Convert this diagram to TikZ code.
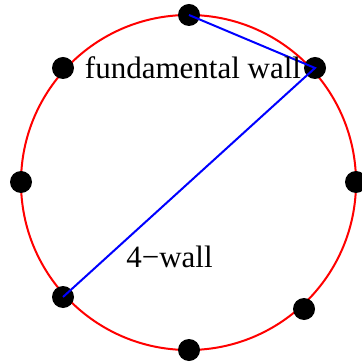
\documentclass[tikz,border=0pt]{standalone}
\usepackage{fontspec}
\setmainfont{Liberation Serif}
\usepackage{tikz}
\usetikzlibrary{positioning}
\tikzset{
  vert/.style={circle, fill=black, inner sep=0pt, minimum size=11pt},
  wall/.style={draw=blue, line width=1pt},
  rim/.style={draw=red, line width=1pt},
  lbl/.style={anchor=base, inner sep=0pt, font=\fontsize{15.5}{18}\selectfont}
}
\begin{document}
\begin{tikzpicture}[x=0.5pt, y=-0.5pt]
\useasboundingbox (0,0) rectangle (361,362);
\draw[rim] (188.5,182.5) circle[radius=83.75pt];
\node[vert] (n) at (189,15) {};
\node[vert] (ne) at (315,68) {};
\node[vert] (nw) at (63,68) {};
\node[vert] (w) at (21,182) {};
\node[vert] (e) at (356,182) {};
\node[vert] (sw) at (63,297) {};
\node[vert] (s) at (189,350) {};
\node[vert] (se) at (304,309) {};
\draw[wall] (n.center)--(ne.center)--(sw.center);
\node[lbl] (fw) at (193,79) {fundamental wall};
\node[lbl] (fourw) at (169.5,267) {4−wall};
\end{tikzpicture}
\end{document}
